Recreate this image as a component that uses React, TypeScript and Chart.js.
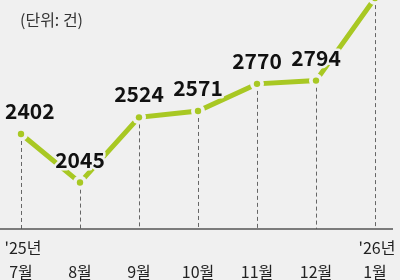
import React, { useEffect, useRef } from "react";
import { Chart, registerables } from "chart.js";

Chart.register(...registerables);

const months = ["7월", "8월", "9월", "10월", "11월", "12월", "1월"];
const years = ["'25년", "", "", "", "", "", "'26년"];
const values = [2402, 2045, 2524, 2571, 2770, 2794, 3400];
const valueLabels = ["2402", "2045", "2524", "2571", "2770", "2794", "3400"];
const unitLabel = "(단위: 건)";

const BG = "#f0f0f0";
const GREEN = "#a8c823";
const FONT = "'Noto Sans CJK KR', 'Noto Sans', sans-serif";

const decorPlugin = {
  id: "decor",
  beforeDatasetsDraw(chart: any) {
    const { ctx, chartArea } = chart;
    const meta = chart.getDatasetMeta(0);
    const xScale = chart.scales.x;
    ctx.save();
    // dashed verticals
    ctx.strokeStyle = "#666";
    ctx.lineWidth = 1;
    ctx.setLineDash([4, 3]);
    meta.data.forEach((pt: any) => {
      ctx.beginPath();
      ctx.moveTo(Math.round(pt.x) + 0.5, pt.y);
      ctx.lineTo(Math.round(pt.x) + 0.5, chartArea.bottom);
      ctx.stroke();
    });
    ctx.setLineDash([]);
    // baseline axis
    ctx.strokeStyle = "#555";
    ctx.lineWidth = 1.5;
    ctx.beginPath();
    ctx.moveTo(0, chartArea.bottom);
    ctx.lineTo(chart.width - 7, chartArea.bottom);
    ctx.stroke();
    // category labels
    ctx.fillStyle = "#222";
    ctx.font = `16px ${FONT}`;
    ctx.textAlign = "center";
    ctx.textBaseline = "middle";
    months.forEach((m, i) => {
      const x = xScale.getPixelForValue(i);
      if (years[i]) ctx.fillText(years[i], x + 2, chartArea.bottom + 19);
      ctx.fillText(m, x, chartArea.bottom + 43);
    });
    // unit label
    ctx.fillStyle = "#333";
    ctx.font = `16px ${FONT}`;
    ctx.textAlign = "left";
    ctx.fillText(unitLabel, 20, 20);
    ctx.restore();
  },
  afterDatasetsDraw(chart: any) {
    const { ctx } = chart;
    const meta = chart.getDatasetMeta(0);
    ctx.save();
    ctx.font = `bold 21px ${FONT}`;
    ctx.textAlign = "center";
    ctx.textBaseline = "middle";
    ctx.lineJoin = "round";
    meta.data.forEach((pt: any, i: number) => {
      const txt = valueLabels[i];
      const w = ctx.measureText(txt).width;
      let cx = pt.x;
      if (cx - w / 2 < 5) cx = 5 + w / 2;
      const cy = pt.y - 23;
      ctx.strokeStyle = BG;
      ctx.lineWidth = 5;
      ctx.strokeText(txt, cx, cy);
      ctx.fillStyle = "#111";
      ctx.fillText(txt, cx, cy);
    });
    ctx.restore();
  },
};

export default function App() {
  const ref = useRef<HTMLCanvasElement | null>(null);
  useEffect(() => {
    if (!ref.current) return;
    const chart = new Chart(ref.current, {
      type: "line",
      data: {
        labels: months,
        datasets: [
          {
            data: values,
            borderColor: GREEN,
            borderWidth: 5,
            pointRadius: 7,
            pointBackgroundColor: BG,
            pointBorderWidth: 0,
            pointBorderColor: BG,
            tension: 0,
            clip: false as any,
            order: 1,
          },
          {
            data: values,
            showLine: false,
            pointRadius: 3.2,
            pointBackgroundColor: GREEN,
            pointBorderWidth: 0,
            clip: false as any,
            order: 0,
          },
        ],
      },
      options: {
        animation: false,
        responsive: false,
        maintainAspectRatio: false,
        layout: { autoPadding: false, padding: { left: 21, right: 25, top: 0, bottom: 51 } } as any,
        plugins: { legend: { display: false }, tooltip: { enabled: false }, title: { display: false } },
        scales: {
          x: { display: false, offset: false },
          y: { display: false, min: 1704, max: 3386 },
        },
      },
      plugins: [decorPlugin],
    });
    return () => chart.destroy();
  }, []);
  return (
    <div style={{ position: "fixed", left: 0, top: 0, width: 400, height: 280, background: BG }}>
      <canvas ref={ref} width={400} height={280} style={{ display: "block", width: 400, height: 280 }} />
    </div>
  );
}
